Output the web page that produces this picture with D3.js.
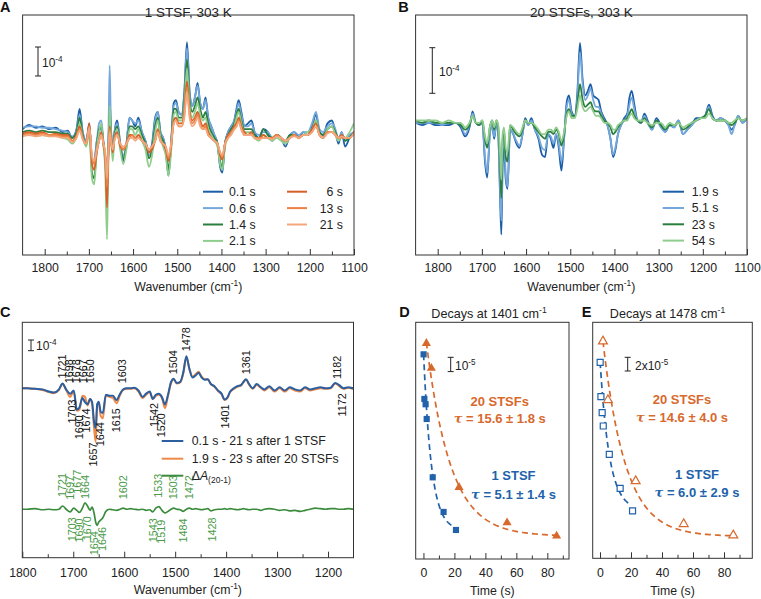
<!DOCTYPE html>
<html>
<head>
<meta charset="utf-8">
<script src="https://cdn.jsdelivr.net/npm/d3@7"></script>
<style>
  body { margin: 0; background: #fff; }
  svg { font-family: "Liberation Sans", Arial, Helvetica, sans-serif; }
</style>
</head>
<body>
<svg id="fig" width="761" height="599"></svg>
<script>
// shared wavenumber grid (cm-1) for all spectra
var wn = [1850,1835,1820,1805,1790,1775,1760,1748,1738,1728,
  1721,1714,1706,1699,1693,1688,1682,1677,1672,1667,1663,1659,1656,1653,1650,
  1646,1642,1636,1629,1622,1615,1608,1602,1595,1588,1580,1572,1564,1557,1550,1544,
  1538,1532,1526,1520,1514,1508,1503,1497,1490,1484,1478,
  1472,1466,1460,1454,1448,1442,1436,1430,1423,1416,1409,1403,
  1398,1392,1385,1378,1371,1366,1361,1355,1348,1340,1332,1325,
  1315,1305,1295,1285,1275,1265,1255,1245,1235,1225,1215,1205,1195,
  1186,1178,1170,1160,1150,1142,1135,1128,1120,1110,1100]

// panel A, 1 STSF (units of 1e-4)
var a01 = [0.2,0.35,0.25,0.3,0.2,0.25,0.1,0.15,-0.1,0.2,
  0.9,0.1,-0.2,0.4,-0.9,-0.9,-0.2,0.1,0.3,-0.3,-0.8,-1.3,-0.6,1.2,0.2,
  -0.6,0.1,0.5,-0.3,-0.9,-0.3,0.6,0.5,0.3,0.6,0.1,-0.2,-0.6,-0.3,0.6,0.8,
  0.1,-0.1,-0.5,-1.4,-0.3,1.1,1.2,0.8,0.7,1.5,3.2,
  1.5,1.0,1.3,1.8,1.1,0.9,1.3,0.6,0.3,0.0,-0.3,-1.1,
  -1.3,-0.3,0.1,0.3,0.5,0.9,1.2,0.8,0.3,0.4,0.5,0.1,
  -0.1,0.2,0.1,-0.2,0.0,-0.1,-0.4,0.0,0.1,-0.1,0.1,0.0,0.3,
  0.7,0.1,0.0,0.4,0.5,0.1,-0.3,0.1,-0.4,-0.1,0.1]
var a06 = [0.25,0.3,0.3,0.25,0.25,0.2,0.15,0.1,-0.05,0.15,
  0.7,0.1,-0.2,0.3,-0.8,-0.9,-0.2,0.4,0.5,-0.2,-0.7,-1.0,-0.2,2.4,0.3,
  -0.5,0.1,0.4,-0.3,-0.7,-0.3,0.6,0.5,0.4,0.5,0.1,-0.2,-0.7,-0.4,0.5,0.8,
  0.1,-0.1,-0.5,-1.3,-0.3,1.0,1.1,0.8,0.7,1.4,3.0,
  1.4,1.0,1.3,1.7,1.1,0.9,1.2,0.6,0.3,0.0,-0.3,-1.0,
  -1.2,-0.3,0.1,0.3,0.5,0.8,1.1,0.7,0.3,0.3,0.4,0.1,
  0.0,0.1,0.1,-0.1,0.0,-0.1,-0.3,0.0,0.1,0.0,0.1,0.1,0.4,
  0.8,0.2,0.1,0.3,0.4,0.2,-0.2,0.1,-0.2,0.0,0.1]
var a14 = [0.1,0.15,0.1,0.15,0.1,0.1,0.05,0.05,-0.1,0.1,
  0.6,0.0,-0.3,0.2,-1.3,-1.5,-0.4,0.2,0.3,-0.3,-0.9,-1.8,-0.6,0.8,0.1,
  -0.7,0.0,0.3,-0.4,-0.8,-0.4,0.3,0.3,0.2,0.3,0.0,-0.3,-0.8,-0.5,0.3,0.6,
  0.0,-0.2,-0.5,-1.2,-0.4,0.9,0.9,0.6,0.6,1.2,2.6,
  1.2,0.8,1.0,1.3,0.9,0.6,0.8,0.4,0.1,-0.1,-0.3,-0.9,
  -1.1,-0.3,0.0,0.2,0.4,0.7,0.9,0.5,0.2,0.2,0.2,0.0,
  -0.1,0.2,0.0,-0.1,0.0,-0.1,-0.2,0.0,0.0,-0.1,0.0,0.0,0.2,
  0.5,0.1,0.0,0.2,0.3,0.1,-0.1,0.0,-0.2,-0.1,0.1]
var a21 = [0.0,0.05,-0.05,0.0,-0.05,0.0,-0.1,-0.15,-0.3,-0.05,
  0.4,-0.1,-0.4,0.1,-1.5,-1.7,-0.5,0.1,0.4,-0.4,-1.2,-3.6,-1.0,1.0,0.0,
  -0.9,-0.1,0.2,-0.5,-1.0,-0.5,0.2,0.2,0.0,0.2,-0.2,-0.5,-1.1,-0.7,0.1,0.5,
  -0.1,-0.4,-0.7,-1.4,-0.6,0.7,0.8,0.5,0.5,1.0,2.3,
  1.0,0.6,0.8,1.1,0.7,0.5,0.6,0.2,0.0,-0.2,-0.4,-1.0,
  -1.2,-0.4,-0.1,0.1,0.3,0.6,0.8,0.4,0.1,0.1,0.1,-0.1,
  -0.2,0.0,-0.1,-0.2,-0.1,-0.2,-0.3,-0.1,0.0,-0.1,0.0,0.1,0.2,
  0.5,0.0,-0.1,0.2,0.3,0.0,-0.2,0.0,-0.1,0.1,0.4]
var a6 = [0.05,0.1,0.05,0.1,0.0,0.05,0.0,0.0,-0.2,0.0,
  0.3,-0.1,-0.3,0.4,-1.0,-1.2,-0.6,-0.2,0.1,-0.3,-0.8,-2.5,-0.8,0.3,-0.2,
  -0.6,-0.1,0.1,-0.4,-0.5,-0.3,0.0,0.0,-0.1,0.0,-0.2,-0.3,-0.6,-0.5,-0.2,0.2,
  -0.2,-0.3,-0.5,-0.9,-0.4,0.5,0.6,0.4,0.4,0.8,1.85,
  0.8,0.5,0.6,0.8,0.5,0.3,0.4,0.1,-0.1,-0.2,-0.3,-0.7,
  -0.85,-0.3,0.0,0.1,0.3,0.4,0.6,0.3,0.1,0.0,0.1,-0.1,
  -0.1,0.0,-0.1,-0.1,0.0,-0.1,-0.2,-0.1,0.0,-0.1,0.0,0.0,0.2,
  0.4,0.0,-0.1,0.1,0.1,0.0,-0.1,0.0,-0.1,-0.1,0.1]
var a13 = [0.0,0.05,0.0,0.05,0.0,0.0,-0.05,-0.05,-0.2,-0.05,
  0.2,-0.1,-0.3,0.3,-0.8,-1.0,-0.5,-0.2,0.0,-0.3,-0.7,-1.8,-0.7,0.2,-0.2,
  -0.5,-0.1,0.0,-0.3,-0.5,-0.3,-0.1,0.0,-0.1,-0.1,-0.2,-0.3,-0.5,-0.4,-0.2,0.1,
  -0.2,-0.3,-0.4,-0.8,-0.4,0.4,0.5,0.3,0.3,0.7,1.65,
  0.7,0.4,0.5,0.7,0.4,0.2,0.3,0.0,-0.1,-0.2,-0.3,-0.6,
  -0.75,-0.3,-0.1,0.1,0.2,0.3,0.5,0.2,0.0,0.0,0.0,-0.1,
  -0.1,-0.1,-0.1,-0.1,0.0,-0.1,-0.2,-0.1,0.0,-0.1,0.0,0.0,0.1,
  0.3,0.0,-0.1,0.1,0.1,0.0,-0.1,-0.1,-0.1,-0.1,0.1]
var a21s = [-0.05,0.0,-0.05,0.0,-0.05,-0.05,-0.1,-0.1,-0.25,-0.1,
  0.15,-0.15,-0.3,0.25,-0.7,-0.9,-0.5,-0.2,0.0,-0.3,-0.6,-1.5,-0.6,0.1,-0.2,
  -0.5,-0.2,0.0,-0.3,-0.4,-0.3,-0.1,-0.1,-0.2,-0.1,-0.2,-0.3,-0.5,-0.4,-0.2,0.1,
  -0.2,-0.3,-0.4,-0.7,-0.3,0.4,0.5,0.3,0.3,0.6,1.5,
  0.6,0.3,0.4,0.6,0.3,0.2,0.2,0.0,-0.1,-0.2,-0.3,-0.6,
  -0.7,-0.3,-0.1,0.0,0.2,0.3,0.45,0.2,0.0,0.0,0.0,-0.1,
  -0.15,-0.1,-0.1,-0.15,-0.05,-0.1,-0.2,-0.1,-0.05,-0.1,0.0,0.0,0.1,
  0.3,0.0,-0.1,0.05,0.1,0.0,-0.1,-0.05,-0.1,-0.1,0.05]

// panel B, 20 STSFs (units of 1e-4)
var b19 = [-0.05,-0.1,-0.05,-0.1,-0.1,-0.1,-0.05,-0.15,-0.35,-0.15,
  0.2,-0.05,-0.1,-0.05,-0.9,-1.25,-0.3,-0.1,-0.4,-0.05,-0.3,-1.6,-2.5,-1.0,-0.6,
  -1.3,-1.5,-0.2,-0.3,-0.5,-0.6,-0.3,0.05,-0.1,0.05,-0.2,-0.4,-0.75,-0.8,-0.3,-0.4,
  -0.6,-0.3,-0.6,-1.1,-0.4,0.4,0.55,0.2,0.1,0.6,1.7,
  0.9,0.55,0.65,0.8,0.55,0.5,0.45,0.2,0.05,-0.1,-0.4,-0.8,
  -0.65,-0.3,-0.1,0.05,0.15,0.5,0.65,0.35,0.0,-0.05,0.15,0.0,
  -0.2,0.05,-0.1,-0.25,-0.1,-0.15,0.0,-0.3,-0.2,-0.1,0.05,0.05,0.1,
  0.35,0.1,0.0,0.05,0.0,-0.1,-0.2,-0.1,0.1,-0.05,0.05]
var b51 = [-0.05,-0.05,-0.05,-0.05,-0.1,-0.05,-0.05,-0.1,-0.3,-0.1,
  0.15,-0.05,-0.1,-0.05,-0.8,-1.15,-0.3,-0.1,-0.35,-0.05,-0.3,-1.4,-2.2,-0.6,-0.3,
  -1.2,-1.45,-0.2,-0.3,-0.45,-0.55,-0.3,0.0,-0.1,0.0,-0.2,-0.35,-0.6,-0.65,-0.3,-0.35,
  -0.5,-0.3,-0.5,-0.9,-0.4,0.3,0.45,0.15,0.1,0.5,1.5,
  0.8,0.45,0.55,0.7,0.45,0.3,0.3,0.15,0.0,-0.1,-0.4,-0.75,
  -0.6,-0.3,-0.1,0.0,0.1,0.35,0.5,0.25,0.0,-0.05,0.1,-0.05,
  -0.2,0.0,-0.15,-0.25,-0.1,-0.15,0.0,-0.3,-0.2,-0.1,0.0,0.05,0.1,
  0.3,0.05,0.0,0.05,0.0,-0.1,-0.3,-0.1,0.1,-0.05,0.05]
var b23 = [0.0,-0.05,0.0,-0.05,-0.05,-0.05,-0.05,-0.1,-0.2,-0.1,
  0.1,-0.05,-0.1,0.0,-0.4,-0.6,-0.15,0.0,-0.2,0.0,-0.15,-0.9,-1.7,-0.4,-0.2,
  -0.8,-0.9,-0.1,-0.2,-0.3,-0.35,-0.2,0.0,-0.05,-0.05,-0.15,-0.25,-0.35,-0.4,-0.25,-0.25,
  -0.3,-0.2,-0.3,-0.55,-0.3,0.15,0.25,0.1,0.1,0.35,0.8,
  0.45,0.3,0.35,0.4,0.25,0.2,0.2,0.1,0.0,-0.05,-0.15,-0.3,
  -0.25,-0.15,-0.05,0.0,0.05,0.15,0.25,0.1,0.0,-0.05,0.05,-0.05,
  -0.15,0.0,-0.1,-0.2,-0.1,-0.1,-0.05,-0.2,-0.15,-0.05,0.0,0.05,0.1,
  0.25,0.05,0.0,0.0,0.0,-0.05,-0.1,-0.05,0.05,0.0,0.05]
var b54 = [0.0,0.0,0.0,0.0,-0.05,0.0,-0.05,-0.05,-0.15,-0.05,
  0.1,-0.05,-0.05,0.0,-0.35,-0.5,-0.15,0.0,-0.15,0.0,-0.1,-0.7,-1.3,-0.3,-0.15,
  -0.6,-0.7,-0.1,-0.15,-0.25,-0.3,-0.15,0.0,-0.05,-0.05,-0.1,-0.2,-0.3,-0.3,-0.2,-0.2,
  -0.25,-0.15,-0.25,-0.45,-0.25,0.1,0.2,0.05,0.05,0.25,0.55,
  0.3,0.2,0.25,0.3,0.2,0.1,0.1,0.05,-0.05,-0.05,-0.1,-0.2,
  -0.2,-0.1,-0.05,0.0,0.0,0.1,0.15,0.05,0.0,0.0,0.0,-0.05,
  -0.1,-0.05,-0.05,-0.15,-0.05,-0.1,-0.05,-0.15,-0.1,-0.05,0.0,0.05,0.05,
  0.15,0.05,0.0,0.0,0.0,-0.05,-0.05,0.0,0.05,0.0,0.05]

// panel C difference spectra (units of 1e-4)
var c1 = [0,0,0,0,0.0,-0.05,-0.1,-0.3,-0.4,-0.1,
  0.45,-0.1,-0.5,-0.2,-2.0,-1.8,-0.9,-1.3,-1.5,-1.0,-1.3,-3.2,-3.7,-1.5,-1.25,
  -2.2,-2.3,-0.6,-0.7,-0.7,-1.1,-0.5,-0.1,0.0,0.0,0.05,-0.2,-0.8,-0.5,-0.3,-1.0,
  -0.6,-0.5,-0.8,-1.5,-0.6,0.6,0.9,0.5,0.6,1.5,3.0,
  1.8,1.0,1.2,1.45,1.0,0.8,0.85,0.4,0.2,-0.2,-0.5,-1.05,
  -0.9,-0.3,0.0,0.2,0.3,0.6,0.85,0.4,0.0,0.4,0.1,-0.1,
  0.2,-0.2,0.1,-0.2,0.1,-0.1,-0.2,0.1,-0.1,0.0,0.1,0.0,0.05,
  0.5,0.3,0.0,0.1,0.0,0,0,0,0,0,0]
var c2 = [0,0,0,0,0.0,-0.05,-0.15,-0.35,-0.45,-0.15,
  0.4,-0.15,-0.8,-0.3,-2.1,-2.0,-0.7,-0.8,-1.6,-1.0,-1.5,-3.8,-5.0,-1.5,-1.4,
  -2.6,-2.8,-0.7,-0.8,-0.9,-1.4,-0.6,-0.15,-0.05,-0.05,0.0,-0.3,-0.9,-0.6,-0.35,-1.0,
  -0.7,-0.6,-0.9,-1.85,-0.7,0.5,0.85,0.45,0.55,1.4,2.9,
  1.8,1.1,1.3,1.55,1.1,0.85,0.85,0.4,0.15,-0.25,-0.55,-1.1,
  -0.95,-0.35,-0.05,0.15,0.25,0.55,0.8,0.35,-0.05,0.3,0.05,-0.2,
  0.1,-0.3,0.0,-0.3,0.0,-0.2,-0.3,0.0,-0.2,-0.1,0.0,-0.05,0.0,
  0.45,0.2,-0.05,0.05,-0.05,0,0,0,0,0,0]
var c3 = [0,0,0,0,0.0,0.05,-0.05,0.0,-0.05,0.0,
  0.3,0.0,-0.25,0.1,-0.1,-0.3,0.1,0.6,0.3,-0.1,0.2,-0.4,-1.2,-1.5,-1.2,
  -1.0,-0.8,-0.2,0.0,-0.05,-0.1,0.0,0.1,0.0,0.05,0.0,-0.05,0.0,-0.1,-0.05,-0.25,
  0.1,0.25,-0.1,-0.35,-0.2,0.0,0.1,0.0,-0.05,-0.2,0.0,
  0.1,0.0,0.05,0.0,-0.05,0.0,0.05,-0.15,-0.05,0.0,0.0,0.05,
  0.0,0.05,0.0,-0.05,0.0,0.05,0.0,-0.05,0.0,0.0,-0.1,0.0,
  0.05,0.0,-0.1,-0.05,-0.15,-0.1,-0.2,-0.1,0.0,0.1,0.05,0.0,0.05,
  0.05,0.0,0.0,0.05,0.0,0,0,0,0,0,0]
var diffOffset = -11.3

var cPeakUp = [1721,1698,1678,1667,1650,1603,1504,1478,1361,1182]
var cPeakDown = [1703,1690,1674,1657,1644,1615,1542,1520,1401,1172]
var gPeakUp = [1721,1697,1677,1664,1602,1533,1503,1472]
var gPeakDown = [1703,1690,1670,1654,1646,1543,1519,1484,1428]

// panels D and E, kinetics
var t1 = [0.1,0.6,1.4,2.1,6,13,21]
var t20 = [1.9,5.1,23,54,86]
var d1401one = [14.31,11.19,10.82,9.79,5.71,3.29,2.03]     // 1e-5
var d1401twenty = [15.08,13.34,5.01,2.54,1.61]
var d1478one = [28.61,23.59,21.26,19.31,15.18,10.22,6.91]
var d1478twenty = [31.68,23.11,11.28,5.01,3.36]
var fitD1 = {tau: 5.1, amp: 12.56, off: 2.0, from: 0.1, to: 19}
var fitD20 = {tau: 15.6, amp: 15.3, off: 1.6, from: 1.9, to: 86}
var fitE1 = {tau: 6.0, amp: 22, off: 7, from: 0.1, to: 20}
var fitE20 = {tau: 14.6, amp: 32.44, off: 3.2, from: 1.9, to: 86}

var spectraTicks = [1800,1700,1600,1500,1400,1300,1200,1100]
var spectraMinor = [1750,1650,1550,1450,1350,1250,1150]
var timeTicks = [0,20,40,60,80]
var timeMinor = [10,30,50,70,90]

var colA = ["#1b5ea8","#74a8dc","#2a7f3f","#8fcd8c","#d6602a","#ec8144","#f4a77c"]
var blue = "#2162aa", orange = "#d8692d", green = "#3a8b3c"

var svg = d3.select("#fig")
var FONT = "Liberation Sans, Arial, Helvetica, sans-serif"

function frame(b) {
  svg.append("rect").attr("x", b.x0).attr("y", b.y0)
    .attr("width", b.x1 - b.x0).attr("height", b.y1 - b.y0)
    .attr("fill", "none").attr("stroke", "#333").attr("stroke-width", 1)
}

function bottomAxis(x, y0, major, minor, pad) {
  svg.append("g").attr("transform", "translate(0," + y0 + ")")
    .call(d3.axisBottom(x).tickValues(major).tickSizeInner(-6).tickSizeOuter(0)
      .tickPadding(pad).tickFormat(d3.format("d")))
    .attr("font-size", 12.3).attr("font-family", FONT).attr("color", "#333")
    .call(g => g.select(".domain").remove())
    .call(g => g.selectAll("text").attr("fill", "#222"))
  svg.append("g").attr("transform", "translate(0," + y0 + ")")
    .call(d3.axisBottom(x).tickValues(minor).tickSizeInner(-3.5).tickSizeOuter(0).tickFormat(""))
    .attr("color", "#333")
    .call(g => g.select(".domain").remove())
}

function clip(id, b) {
  svg.append("clipPath").attr("id", id).append("rect")
    .attr("x", b.x0).attr("y", b.y0).attr("width", b.x1 - b.x0).attr("height", b.y1 - b.y0)
  return "url(#" + id + ")"
}

function supText(x, y, parts, anchor, size) {
  // parts: [text, sup, tail]
  var t = svg.append("text").attr("x", x).attr("y", y).attr("font-size", size || 12)
    .attr("text-anchor", anchor || "start").attr("fill", "#222")
  t.append("tspan").text(parts[0])
  t.append("tspan").attr("font-size", (size || 12) * 0.68).attr("dy", -5).text(parts[1])
  if (parts[2]) t.append("tspan").attr("dy", 5).text(parts[2])
  return t
}

function scaleBar(x, top, len, label, tx, ty) {
  var g = svg.append("g").attr("stroke", "#222").attr("stroke-width", 1)
  g.append("line").attr("x1", x).attr("x2", x).attr("y1", top).attr("y2", top + len)
  g.append("line").attr("x1", x - 3).attr("x2", x + 3).attr("y1", top).attr("y2", top)
  g.append("line").attr("x1", x - 3).attr("x2", x + 3).attr("y1", top + len).attr("y2", top + len)
  supText(tx, ty, label, "start", 12)
}

function spectrum(x, y, vals, offset) {
  return d3.line()
    .x((d, i) => x(wn[i]))
    .y(d => y(d + (offset || 0)))
    .curve(d3.curveMonotoneX)(vals)
}

function valAt(vals, v) {
  for (var i = 0; i < wn.length - 1; i++) {
    if (wn[i] >= v && wn[i + 1] <= v) {
      var f = (wn[i] - v) / (wn[i] - wn[i + 1])
      return vals[i] + f * (vals[i + 1] - vals[i])
    }
  }
  return 0
}

function panelLetter(x, y, s) {
  svg.append("text").attr("x", x).attr("y", y).attr("font-size", 14.5)
    .attr("font-weight", "bold").attr("fill", "#111").text(s)
}

function title(x, y, s) {
  svg.append("text").attr("x", x).attr("y", y).attr("font-size", 13.5)
    .attr("text-anchor", "middle").attr("fill", "#222").text(s)
}

// ---------- panel A ----------
var boxA = {x0: 22.6, x1: 354, y0: 15, y1: 255}
var xA = d3.scaleLinear().domain([1850, 1100]).range([boxA.x0, boxA.x1])
var yA = d3.scaleLinear().domain([-4.14, 4.14]).range([boxA.y1, boxA.y0])
var seriesA = [a01, a06, a14, a21, a6, a13, a21s]
var namesA = ["0.1 s", "0.6 s", "1.4 s", "2.1 s", "6 s", "13 s", "21 s"]

svg.append("g").attr("clip-path", clip("clipA", boxA))
  .selectAll("path").data(seriesA).enter().append("path")
  .attr("d", d => spectrum(xA, yA, d))
  .attr("fill", "none").attr("stroke", (d, i) => colA[i]).attr("stroke-width", 1.8)
frame(boxA)
bottomAxis(xA, boxA.y1, spectraTicks, spectraMinor, 8)
panelLetter(0, 11.7, "A")
title((boxA.x0 + boxA.x1) / 2, 16.7, "1 STSF, 303 K")
supText((boxA.x0 + boxA.x1) / 2, 291, ["Wavenumber (cm", "-1", ")"], "middle", 12.3)
scaleBar(38, 47, yA(0) - yA(1), ["10", "-4"], 42, 66.7)

var legA = svg.append("g")
namesA.forEach(function (n, i) {
  var col = i < 4 ? 0 : 1, row = i < 4 ? i : i - 4
  var lx = col === 0 ? 203 : 287
  var cy = 191.7 + row * 16.4
  legA.append("line").attr("x1", lx).attr("x2", lx + 20).attr("y1", cy).attr("y2", cy)
    .attr("stroke", colA[i]).attr("stroke-width", 2)
  legA.append("text").attr("x", col === 0 ? 229 : 343).attr("y", cy + 4.4)
    .attr("text-anchor", col === 0 ? "start" : "end")
    .attr("font-size", 12.3).attr("fill", "#222").text(n)
})

// ---------- panel B ----------
var boxB = {x0: 415.6, x1: 747, y0: 15, y1: 255}
var xB = d3.scaleLinear().domain([1850, 1100]).range([boxB.x0, boxB.x1])
var yB = d3.scaleLinear().domain([-2.95, 2.314]).range([boxB.y1, boxB.y0])
var seriesB = [b19, b51, b23, b54]
var namesB = ["1.9 s", "5.1 s", "23 s", "54 s"]

svg.append("g").attr("clip-path", clip("clipB", boxB))
  .selectAll("path").data(seriesB).enter().append("path")
  .attr("d", d => spectrum(xB, yB, d))
  .attr("fill", "none").attr("stroke", (d, i) => colA[i]).attr("stroke-width", 1.8)
frame(boxB)
bottomAxis(xB, boxB.y1, spectraTicks, spectraMinor, 8)
panelLetter(398.3, 11.7, "B")
title((boxB.x0 + boxB.x1) / 2, 16.7, "20 STSFs, 303 K")
supText((boxB.x0 + boxB.x1) / 2, 291, ["Wavenumber (cm", "-1", ")"], "middle", 12.3)
scaleBar(432.3, 47.7, yB(0) - yB(1), ["10", "-4"], 439, 76)

namesB.forEach(function (n, i) {
  var cy = 191.7 + i * 16.3
  svg.append("line").attr("x1", 662.7).attr("x2", 684).attr("y1", cy).attr("y2", cy)
    .attr("stroke", colA[i]).attr("stroke-width", 2)
  svg.append("text").attr("x", 691.7).attr("y", cy + 4.4)
    .attr("font-size", 12.3).attr("fill", "#222").text(n)
})

// ---------- panel C ----------
var boxC = {x0: 22.3, x1: 353.5, y0: 322.3, y1: 557.7}
var xC = d3.scaleLinear().domain([1800, 1150]).range([boxC.x0, boxC.x1])
var yC = d3.scaleLinear().domain([-15.83, 6.17]).range([boxC.y1, boxC.y0])
var gC = svg.append("g").attr("clip-path", clip("clipC", boxC))
gC.append("path").attr("d", spectrum(xC, yC, c2)).attr("fill", "none")
  .attr("stroke", "#ee8a48").attr("stroke-width", 2)
gC.append("path").attr("d", spectrum(xC, yC, c1)).attr("fill", "none")
  .attr("stroke", "#2b5f9f").attr("stroke-width", 2)
gC.append("path").attr("d", spectrum(xC, yC, c3, diffOffset)).attr("fill", "none")
  .attr("stroke", green).attr("stroke-width", 1.7)
frame(boxC)
bottomAxis(xC, boxC.y1, spectraTicks.filter(d => d >= 1200), spectraMinor.filter(d => d > 1150), 10.5)
panelLetter(0, 316.7, "C")
supText((boxC.x0 + boxC.x1) / 2, 594, ["Wavenumber (cm", "-1", ")"], "middle", 12.3)
scaleBar(31, 340, yC(0) - yC(1), ["10", "-4"], 36, 350)

// spread crowded peak labels along x
function spread(vals, x, gap) {
  var out = []
  vals.forEach(function (v, i) {
    var px = x(v)
    if (i > 0 && px - x(vals[i - 1]) < 12.5) px = out[i - 1] + gap
    out.push(px)
  })
  return out
}

function rotLabels(vals, pos, yFn, anchor, color) {
  svg.append("g").selectAll("text").data(vals).enter().append("text")
    .attr("transform", (d, i) => "translate(" + pos[i] + "," + yFn(d) + ") rotate(-90)")
    .attr("dy", "0.35em").attr("text-anchor", anchor)
    .attr("font-size", 10.8).attr("fill", color).text(d => d)
}

var base0 = yC(0), baseG = yC(diffOffset)
rotLabels(cPeakUp, spread(cPeakUp, xC, 7),
  v => Math.min(yC(valAt(c1, v)), yC(valAt(c2, v)), base0) - 5, "start", "#111")
rotLabels(cPeakDown, spread(cPeakDown, xC, 7),
  v => Math.max(yC(valAt(c1, v)), yC(valAt(c2, v)), base0) + 5, "end", "#111")
rotLabels(gPeakUp, spread(gPeakUp, xC, 7.5),
  v => Math.min(yC(valAt(c3, v) + diffOffset), baseG) - 9, "start", "#4a9a48")
rotLabels(gPeakDown, spread(gPeakDown, xC, 7.5),
  v => Math.max(yC(valAt(c3, v) + diffOffset), baseG) + 7, "end", "#4a9a48")

var legC = [["0.1 s - 21 s after 1 STSF", "#2b5f9f"], ["1.9 s - 23 s after 20 STSFs", "#ee8a48"], ["", green]]
legC.forEach(function (d, i) {
  var cy = [441, 458.7, 475.7][i]
  svg.append("line").attr("x1", 161.7).attr("x2", 183.3).attr("y1", cy).attr("y2", cy)
    .attr("stroke", d[1]).attr("stroke-width", 2)
  if (d[0]) {
    svg.append("text").attr("x", 191.7).attr("y", cy + 4.4).attr("font-size", 12.3)
      .attr("fill", "#222").text(d[0])
  } else {
    var t = svg.append("text").attr("x", 191.7).attr("y", cy + 4.4).attr("font-size", 12.3).attr("fill", "#222")
    t.append("tspan").text("\u0394")
    t.append("tspan").attr("font-style", "italic").text("A")
    t.append("tspan").attr("font-size", 8.5).attr("dy", 3).text("(20-1)")
  }
})

// ---------- panels D & E ----------
function decayPanel(b, xdom, ydom, one, twenty, fit1, fit20, filled) {
  var x = d3.scaleLinear().domain(xdom).range([b.x0, b.x1])
  var y = d3.scaleLinear().domain(ydom).range([b.y1, b.y0])
  var line = d3.line().x(d => x(d[0])).y(d => y(d[1]))
  ;[[fit1, blue], [fit20, orange]].forEach(function (f) {
    var p = f[0]
    var pts = d3.range(0, 81).map(k => {
      var t = p.from + (p.to - p.from) * k / 80
      return [t, p.amp * Math.exp(-t / p.tau) + p.off]
    })
    svg.append("path").attr("d", line(pts)).attr("fill", "none").attr("stroke", f[1])
      .attr("stroke-width", 1.7).attr("stroke-dasharray", "6,4")
  })
  svg.append("g").selectAll("path").data(twenty).enter().append("path")
    .attr("transform", (d, i) => "translate(" + x(t20[i]) + "," + y(d) + ")")
    .attr("d", d3.symbol(d3.symbolTriangle, filled ? 36 : 34))
    .attr("fill", filled ? orange : "#fff").attr("stroke", orange).attr("stroke-width", filled ? 0 : 1.2)
  svg.append("g").selectAll("path").data(one).enter().append("path")
    .attr("transform", (d, i) => "translate(" + x(t1[i]) + "," + y(d) + ")")
    .attr("d", d3.symbol(d3.symbolSquare, filled ? 38 : 36))
    .attr("fill", filled ? blue : "#fff").attr("stroke", blue).attr("stroke-width", filled ? 0 : 1.2)
  frame(b)
  bottomAxis(x, b.y1, timeTicks, timeMinor, 9.5)
  svg.append("text").attr("x", (b.x0 + b.x1) / 2).attr("y", 595).attr("text-anchor", "middle")
    .attr("font-size", 12.3).attr("fill", "#222").text("Time (s)")
  return y
}

var boxD = {x0: 415.7, x1: 569, y0: 322.3, y1: 559}
var yD = decayPanel(boxD, [-5, 94], [0, 16.55], d1401one, d1401twenty, fitD1, fitD20, true)
panelLetter(399.3, 317, "D")
supText(489, 318, ["Decays at 1401 cm", "-1"], "middle", 12.6)
scaleBar(450.7, 357.3, yD(0) - yD(1), ["10", "-5"], 455, 369.5)

var boxE = {x0: 592.7, x1: 752.3, y0: 322.3, y1: 558.3}
var yE = decayPanel(boxE, [-4.71, 98.26], [0, 34.45], d1478one, d1478twenty, fitE1, fitE20, false)
panelLetter(581.7, 316.7, "E")
supText(667.5, 318, ["Decays at 1478 cm", "-1"], "middle", 12.6)
scaleBar(627.7, 357.3, yE(0) - yE(2), ["2x10", "-5"], 635, 370)

function fitLabel(cx, y1, y2, name, tauTxt, color) {
  svg.append("text").attr("x", cx).attr("y", y1).attr("text-anchor", "middle")
    .attr("font-size", 13).attr("font-weight", "bold").attr("fill", color).text(name)
  var t = svg.append("text").attr("x", cx).attr("y", y2).attr("text-anchor", "middle")
    .attr("font-size", 13).attr("font-weight", "bold").attr("fill", color)
  t.append("tspan").attr("font-style", "italic").attr("font-family", "DejaVu Serif, serif").text("\u03C4")
  t.append("tspan").text(" = " + tauTxt)
}
fitLabel(499.7, 405.5, 423, "20 STSFs", "15.6 \u00B1 1.8 s", orange)
fitLabel(513.5, 479.6, 498.6, "1 STSF", "5.1 \u00B1 1.4 s", blue)
fitLabel(682, 404, 422, "20 STSFs", "14.6 \u00B1 4.0 s", orange)
fitLabel(697, 478.6, 497, "1 STSF", "6.0 \u00B1 2.9 s", blue)
</script>
</body>
</html>
